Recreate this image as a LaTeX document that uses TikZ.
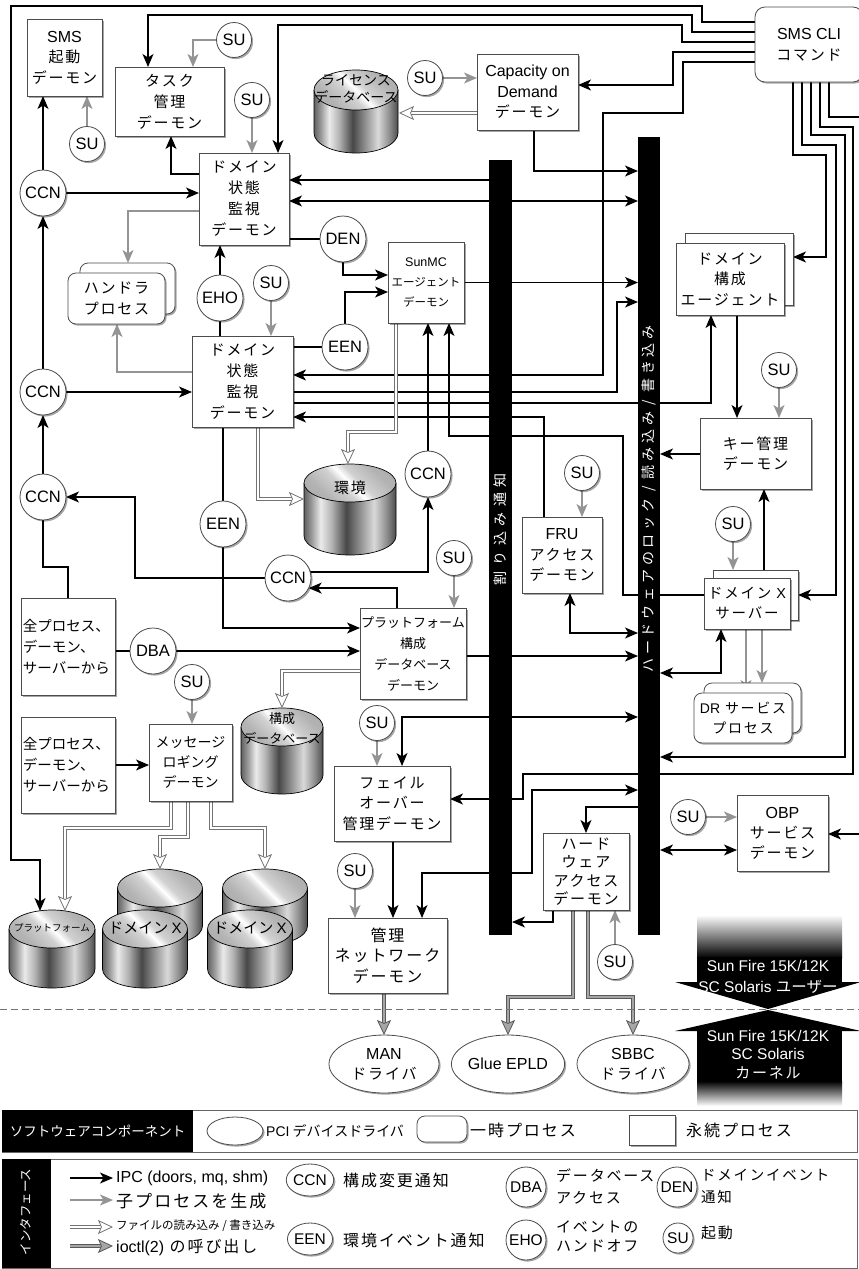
\documentclass[tikz,border=0pt]{standalone}
\usepackage{fontspec}
\setmainfont{Noto Sans CJK JP}[LetterSpace=12]
\newfontfamily\jpt{Noto Sans CJK JP}
\newfontfamily\jpw{Noto Sans CJK JP}[LetterSpace=40]
\newfontfamily\jpv{Noto Sans CJK JP}[LetterSpace=27]
\newfontfamily\lat{Liberation Sans}
\usetikzlibrary{arrows.meta,shadows,shapes.geometric,calc}
\newcommand\fs[2]{\fontsize{#1}{#2}\selectfont}
\newcommand\lsf{\lat\fontsize{16}{20.5}\selectfont}
\colorlet{cA}{black!62}\colorlet{cB}{black!40}\colorlet{cC}{black!8}\colorlet{cD}{black!30}
\colorlet{cE}{black!72}\colorlet{cF}{black!45}\colorlet{cG}{black!15}\colorlet{cH}{black!70}
\colorlet{tA}{black!36}\colorlet{tB}{black!30}\colorlet{tC}{black!18}\colorlet{tD}{white}
\pgfdeclarehorizontalshading{cylside}{100bp}{color(0bp)=(cA); color(25bp)=(cA); color(29bp)=(cB); color(34bp)=(cC); color(40bp)=(cD); color(48bp)=(cE); color(55bp)=(cF); color(63bp)=(cG); color(70bp)=(cF); color(75bp)=(cH); color(100bp)=(cH)}
\pgfdeclarehorizontalshading{cyltop}{100bp}{color(0bp)=(tA); color(30bp)=(tB); color(44bp)=(tC); color(50bp)=(tD); color(56bp)=(tC); color(70bp)=(tB); color(100bp)=(tA)}
\pgfdeclarelayer{paper}
\pgfdeclarelayer{cyl}
\pgfdeclarelayer{bg}
\pgfsetlayers{paper,cyl,bg,main}
\newcommand\dbcyl[5]{%
  \shade[shading=cylside] ({#1-#4},#2) -- ({#1-#4},#3) arc[start angle=180,end angle=0,x radius=#4,y radius=#5] -- ({#1+#4},#2) -- cycle;
  \draw[line width=0.7pt] ({#1-#4},#2) -- ({#1-#4},#3) arc[start angle=180,end angle=0,x radius=#4,y radius=#5] -- ({#1+#4},#2);
  \shade[shading=cyltop, shading angle=45] (#1,#2) ellipse[x radius=#4, y radius=#5];
  \draw[line width=0.7pt] (#1,#2) ellipse[x radius=#4, y radius=#5];
}
\tikzset{
 shd/.style={drop shadow={shadow xshift=1.6pt, shadow yshift=-1.6pt, opacity=0.35, fill=black}},
 box/.style={draw=black!70, fill=white, line width=0.8pt, outer sep=0pt, inner sep=1pt, align=center, shd, font=\fs{15}{20.5}},
 rbox/.style={box, rounded corners=8pt},
 circ/.style={circle, draw=black!70, fill=white, line width=0.8pt, minimum size=46pt, inner sep=0pt, outer sep=0pt, shd, font=\lat\fs{16.5}{18}},
 su/.style={circ, minimum size=35pt},
 drv/.style={ellipse, draw=black!70, fill=white, line width=0.8pt, inner sep=0pt, outer sep=0pt, align=center, shd, font=\fs{15}{20}},
 barn/.style={fill=black, inner sep=0pt, outer sep=0pt, minimum width=23pt},
 ipc/.style={line width=1.3pt, ->},
 ipc2/.style={line width=1.3pt, <->},
 link/.style={line width=1.3pt},
 spawn/.style={line width=1.5pt, draw=black!42, ->},
 fileline/.style={draw=black!55, line width=0.7pt, double=white, double distance=2.6pt, shorten >=10pt},
 filehead/.style={draw=white, line width=0.8pt, -{Stealth[length=15pt,width=14pt,inset=3pt,color=black!55,fill=white]}},
 ioline/.style={draw=black!65, line width=0.7pt, double=black!35, double distance=2.6pt, shorten >=10pt},
 iohead/.style={draw=black!35, line width=0.8pt, -{Stealth[length=15pt,width=14pt,inset=3pt,color=black!65,fill=black!35]}},
 lt/.style={anchor=west, inner sep=0pt},
 wt/.style={text=white, inner sep=0pt, font=\lat\fs{15.5}{18}},
}
\begin{document}
\begin{tikzpicture}[x=1pt,y=-1pt, >={Stealth[length=13pt,width=11pt,inset=3.5pt]}]
\begin{pgfonlayer}{paper}
\fill[white] (0,0) rectangle (859,1269);
\end{pgfonlayer}
\useasboundingbox (0,0) rectangle (859,1269);

% ---------- boxes ----------
\node[box, minimum width=75pt, minimum height=77pt] (smsboot) at (64.5,57.5) {{\lsf SMS}\\起動\\デーモン};
\node[box, minimum width=109pt, minimum height=69pt, font=\fs{15}{21}] (task) at (169.5,101.5) {タスク\\管理\\デーモン};
\node[box, minimum width=90pt, minimum height=92pt, font=\fs{15}{21}] (dsm1) at (244,199) {ドメイン\\状態\\監視\\デーモン};
\node[box, minimum width=101pt, minimum height=91pt, font=\fs{15}{21}] (dsm2) at (242.5,381.5) {ドメイン\\状態\\監視\\デーモン};
\node[rbox, minimum width=95pt, minimum height=51pt] (handb) at (127.5,288.5) {};
\node[rbox, minimum width=97pt, minimum height=51pt] (handf) at (116.5,298.5) {ハンドラ\\プロセス};
\node[box, minimum width=76pt, minimum height=81pt, font=\jpt\fs{11.5}{20}] (sunmc) at (426,282.5) {{\lat\fs{12.5}{20}SunMC}\\エージェント\\デーモン};
\node[box, minimum width=101pt, minimum height=76pt] (cod) at (527.5,92) {{\lsf Capacity on}\\{\lsf Demand}\\デーモン};
\node[box, rounded corners=10pt, minimum width=108pt, minimum height=75pt] (smscli) at (809,44.5) {{\lsf SMS CLI}\\コマンド};
\node[box, minimum width=108pt, minimum height=72pt] (dcfgb) at (739,269) {};
\node[box, minimum width=108pt, minimum height=72pt] (dcfgf) at (730,279) {ドメイン\\構成\\エージェント};
\node[box, minimum width=111pt, minimum height=71pt] (key) at (755.5,453.5) {キー管理\\デーモン};
\node[box, minimum width=80pt, minimum height=76pt] (fru) at (562,555) {{\lsf FRU}\\アクセス\\デーモン};
\node[box, minimum width=85pt, minimum height=50pt] (dxsb) at (755.5,595) {};
\node[box, minimum width=86pt, minimum height=51pt, font=\fs{14.5}{20}] (dxsf) at (747,603.5) {ドメイン {\lat X}\\サーバー};
\node[rbox, minimum width=97pt, minimum height=50pt] (drb) at (752.5,708) {};
\node[rbox, minimum width=98pt, minimum height=50pt, font=\fs{14}{20}] (drf) at (743,718) {{\lat DR} サービス\\プロセス};
\node[box, minimum width=94pt, minimum height=97pt, align=left, text width=90pt, font=\jpt\fs{14.5}{21}] (all1) at (68,646.5) {全プロセス、\\デーモン、\\サーバーから};
\node[box, minimum width=94pt, minimum height=96pt, align=left, text width=90pt, font=\jpt\fs{14.5}{21}] (all2) at (68,765) {全プロセス、\\デーモン、\\サーバーから};
\node[box, minimum width=106pt, minimum height=91pt, font=\jpt\fs{13}{21}] (pcfg) at (413,653.5) {プラットフォーム\\構成\\データベース\\デーモン};
\node[box, minimum width=83pt, minimum height=77pt, font=\jpt\fs{14}{20}] (msg) at (190.5,762.5) {メッセージ\\ロギング\\デーモン};
\node[box, minimum width=116pt, minimum height=75pt] (fail) at (392,803.5) {フェイル\\オーバー\\管理デーモン};
\node[box, minimum width=91pt, minimum height=76pt, font=\fs{15}{20}] (obp) at (782.5,833) {{\lsf OBP}\\サービス\\デーモン};
\node[box, minimum width=86pt, minimum height=77pt, font=\fs{15}{18.5}] (hwa) at (586,871.5) {ハード\\ウェア\\アクセス\\デーモン};
\node[box, minimum width=119pt, minimum height=75pt, font=\fs{16}{20.5}] (mnd) at (387.5,955.5) {管理\\ネットワーク\\デーモン};

% ---------- circles ----------
\node[circ] (ccn1) at (43,193) {CCN};
\node[circ] (ccnm) at (43,392) {CCN};
\node[circ] (ccnl) at (43,497) {CCN};
\node[circ] (ccn2) at (428,474) {CCN};
\node[circ] (ccn3) at (288,578) {CCN};
\node[circ] (den) at (343,239) {DEN};
\node[circ] (een1) at (345,347) {EEN};
\node[circ] (eho) at (220,298) {EHO};
\node[circ] (een2) at (223,524) {EEN};
\node[circ] (dba) at (153,651) {DBA};
\node[su] (sutask) at (234,40) {SU};
\node[su] (suboot) at (87,144) {SU};
\node[su] (sudsm1) at (252,100) {SU};
\node[su] (sudsm2) at (271,283) {SU};
\node[su] (sucod) at (425,78) {SU};
\node[su] (sukey) at (779,370) {SU};
\node[su] (sufru) at (582,473) {SU};
\node[su] (sudxs) at (733,524) {SU};
\node[su] (supcfg) at (454,558) {SU};
\node[su] (sumsg) at (192,682) {SU};
\node[su] (sufail) at (377,723) {SU};
\node[su] (sumnd) at (355,871) {SU};
\node[su] (suhwa) at (615,962) {SU};
\node[su] (suobp) at (688,817) {SU};

% ---------- drivers ----------
\node[drv, minimum width=110pt, minimum height=58pt] (man) at (384,1064) {{\lsf MAN}\\ドライバ};
\node[drv, minimum width=110pt, minimum height=58pt] (glue) at (508,1064) {{\lsf Glue EPLD}};
\node[drv, minimum width=112pt, minimum height=58pt] (sbbc) at (633,1064) {{\lsf SBBC}\\ドライバ};

% ---------- bars ----------
\node[barn, minimum height=775pt] (intbar) at (500.5,547.5) {};
\node[barn, minimum width=22pt, minimum height=798pt] (hwbar) at (649,536) {};
\node[rotate=90, text=white, inner sep=0pt, font=\jpw\fs{14}{14}] (intlabel) at (500.5,529) {割り込み通知};
\node[rotate=90, text=white, inner sep=0pt, font=\jpv\fs{14}{14}] (hwlabel) at (649,499) {ハードウェアのロック / 読み込み / 書き込み};

% ---------- databases ----------
\begin{pgfonlayer}{cyl}
\dbcyl{356}{90}{133}{42}{20}
\dbcyl{350}{483}{536}{46}{19}
\dbcyl{282}{727}{775}{41}{19}
\dbcyl{52}{929}{969}{43}{19}
\dbcyl{160}{888}{926}{42.5}{19}
\dbcyl{145}{929}{969}{42.5}{19}
\dbcyl{265}{888}{926}{42.5}{19}
\dbcyl{250}{929}{969}{42.5}{19}
\end{pgfonlayer}
\node[align=center, inner sep=0pt, font=\jpt\fs{14}{17}] (licdb) at (356,89) {ライセンス\\データベース};
\node[inner sep=0pt, font=\fs{15}{18}] (envdb) at (350,488) {環境};
\node[align=center, inner sep=0pt, font=\jpt\fs{13}{20}] (cfgdb) at (282,728) {構成\\データベース};
\node[inner sep=0pt, font=\jpt\fs{9.5}{12}] (platdb) at (52,928) {プラットフォーム};
\node[inner sep=0pt, font=\jpt\fs{15}{18}] (dx1db) at (145,928) {ドメイン {\lat X}};
\node[inner sep=0pt, font=\jpt\fs{15}{18}] (dx2db) at (250,928) {ドメイン {\lat X}};
\coordinate (licin) at (399,113);
\coordinate (envin1) at (304,499);
\coordinate (envin2) at (348,464);
\coordinate (cfgin) at (282,708);
\coordinate (platin) at (40,911);
\coordinate (platin2) at (65,911);
\coordinate (dxb1in) at (160,869);
\coordinate (dxb2in) at (265,869);

% ---------- connectors ----------
\begin{pgfonlayer}{bg}
\draw[ipc] (smscli.west |- 0,22) -- (702,22) -- (702,6) -- (11,6) -- (11,860) -- (40,860) -- (platin);
\draw[ipc] (smscli.west |- 0,32) -- (692,32) -- (692,15) -- (148,15) -- (task.north -| 148,0);
\draw[ipc] (smscli.west |- 0,42) -- (682,42) -- (682,25) -- (278,25) -- (dsm1.north -| 278,0);
\draw[ipc] (smscli.west |- 0,52) -- (673,52) -- (673,85) -- (cod.east |- 0,85);
\draw[ipc] (smscli.west |- 0,62) -- (683,62) -- (683,113) -- (603,113) -- (603,375) -- (dsm2.east |- 0,375);
\draw[ipc] (smscli.south -| 793,0) -- (793,155) -- (826,155) -- (826,257) -- (dcfgb.east |- 0,257);
\draw[ipc] (smscli.south -| 802,0) -- (802,145) -- (836,145) -- (836,595) -- (dxsb.east |- 0,595);
\draw[ipc] (smscli.south -| 811,0) -- (811,135) -- (845,135) -- (845,757) -- (hwbar.east |- 0,757);
\draw[ipc] (smscli.south -| 820,0) -- (820,127) -- (853,127) -- (853,774) -- (523,774) -- (523,799) -- (fail.east |- 0,799);
\draw[ipc] (smscli.south -| 829,0) -- (829,117) -- (868,117) -- (868,834) -- (obp.east |- 0,834);
\draw[ipc] (cod.south -| 534,0) -- (534,171) -- (hwbar.west |- 0,171);
\draw[ipc] (intbar.west |- 0,180) -- (dsm1.east |- 0,180);
\draw[ipc2] (dsm1.east |- 0,201) -- (hwbar.west |- 0,201);
\draw[ipc] (dsm1.west |- 0,174) -- (171,174) -- (task.south -| 171,0);
\draw[ipc] (ccn1.east) -- (dsm1.west |- ccn1);
\draw[ipc] (ccn1.north) -- (smsboot.south -| ccn1);
\draw[ipc] (ccnm.north) -- (ccn1.south);
\draw[ipc] (ccnm.east) -- (dsm2.west |- ccnm);
\draw[ipc] (ccnl.north) -- (ccnm.south);
\draw[link] (all1.north -| 68,0) -- (68,567) -- (43,567) -- (ccnl.south);
\draw[ipc] (ccn3.west) -- (135,578) -- (135,497) -- (ccnl.east);
\draw[ipc] (ccn3.15) -| (ccn2.south);
\draw[ipc] (ccn2.north) -- (sunmc.south -| ccn2);
\draw[ipc] (pcfg.north -| 397,0) |- (ccn3.-26);
\draw[link] (dsm1.east |- den) -- (den.west);
\draw[ipc] (den.south) |- (sunmc.west |- 0,275);
\draw[link] (dsm2.east |- een1) -- (een1.west);
\draw[ipc] (een1.north) |- (sunmc.west |- 0,292);
\draw[ipc] (sunmc.east) -- (hwbar.west |- sunmc);
\draw[ipc] (dsm2.east |- 0,392) -- (617,392) -- (617,302) -- (hwbar.west |- 0,302);
\draw[ipc] (dsm2.east |- 0,403) -- (711,403) -- (dcfgf.south -| 711,0);
\draw[ipc] (fru.north -| 544,0) -- (544,417) -- (dsm2.east |- 0,417);
\draw[ipc] (dxsf.west |- 0,595) -- (623,595) -- (623,436) -- (449,436) -- (sunmc.south -| 449,0);
\draw[ipc] (eho.north) -- (dsm1.south -| eho);
\draw[link] (eho.south) -- (dsm2.north -| eho);
\draw[link] (dsm2.south -| een2) -- (een2.north);
\draw[ipc] (een2.south) |- (pcfg.west |- 0,628);
\draw[link] (all1.east |- dba) -- (dba.west);
\draw[ipc] (dba.east) -- (pcfg.west |- dba);
\draw[ipc] (all2.east) -- (msg.west |- all2);
\draw[ipc] (pcfg.east |- 0,656) -- (hwbar.west |- 0,656);
\draw[ipc2] (fru.south -| 570,0) -- (570,633) -- (hwbar.west |- 0,633);
\draw[ipc] (dcfgf.south -| 737,0) -- (key.north -| 737,0);
\draw[ipc] (key.west |- 0,454) -- (hwbar.east |- 0,454);
\draw[ipc] (dxsb.north -| 764,0) -- (key.south -| 764,0);
\draw[ipc2] (dxsf.south -| 721,0) -- (721,673) -- (hwbar.east |- 0,673);
\draw[ipc2] (fail.north -| 402,0) -- (402,717) -- (hwbar.west |- 0,717);
\draw[ipc2] (mnd.north -| 422,0) -- (422,873) -- (532,873) -- (532,790) -- (hwbar.west |- 0,790);
\draw[ipc] (hwbar.west |- 0,807) -- (586,807) -- (hwa.north -| 586,0);
\draw[ipc] (fail.south -| 393,0) -- (mnd.north -| 393,0);
\draw[ipc] (hwa.south -| 553,0) -- (553,922) -- (intbar.east |- 0,922);
\draw[ipc2] (hwbar.east |- 0,850) -- (obp.west |- 0,850);
% spawn
\draw[spawn] (sutask.west) -| (task.north -| 193,0);
\draw[spawn] (suboot.north) -- (smsboot.south -| suboot);
\draw[spawn] (sudsm1.south) -- (dsm1.north -| sudsm1);
\draw[spawn] (sudsm2.south) -- (dsm2.north -| sudsm2);
\draw[spawn] (sucod.east) -- (cod.west |- sucod);
\draw[spawn] (dsm1.west |- 0,211) -| (handb.north -| 128,0);
\draw[spawn] (dsm2.west |- 0,372) -| (handf.south -| 117,0);
\draw[spawn] (sukey.south) -- (key.north -| sukey);
\draw[spawn] (sufru.south) -- (fru.north -| sufru);
\draw[spawn] (sudxs.south) -- (dxsb.north -| sudxs);
\draw[spawn] (dxsf.south -| 746,0) -- (drf.north -| 746,0);
\draw[spawn] (dxsf.south -| 762,0) -- (drb.north -| 762,0);
\draw[spawn] (supcfg.south) -- (pcfg.north -| supcfg);
\draw[spawn] (sumsg.south) -- (msg.north -| sumsg);
\draw[spawn] (sufail.south) -- (fail.north -| sufail);
\draw[spawn] (sumnd.south) -- (mnd.north -| sumnd);
\draw[spawn] (suhwa.north) -- (hwa.south -| suhwa);
\draw[spawn] (suobp.east) -- (obp.west |- suobp);
% file read/write
\draw[fileline] (cod.west |- licin) -- (licin);
\draw[filehead] (cod.west |- licin) -- (licin);
\draw[fileline] (dsm2.south -| 258,0) |- (envin1);
\draw[filehead] (258,499) -- (envin1);
\draw[fileline] (sunmc.south -| 396,0) -- (396,432) -| (envin2);
\draw[filehead] (348,432) -- (envin2);
\draw[fileline] (pcfg.west |- 0,671) -| (cfgin);
\draw[filehead] (282,671) -- (cfgin);
\draw[fileline] (msg.south -| 171,0) -- (171,828) -| (platin2);
\draw[filehead] (65,828) -- (platin2);
\draw[fileline] (msg.south -| 188,0) -- (188,837) -| (dxb1in);
\draw[filehead] (160,837) -- (dxb1in);
\draw[fileline] (msg.south -| 211,0) -- (211,828) -| (dxb2in);
\draw[filehead] (265,828) -- (dxb2in);
% ioctl
\draw[ioline] (mnd.south -| man) -- (man.north);
\draw[iohead] (mnd.south -| man) -- (man.north);
\draw[ioline] (hwa.south -| 573,0) -- (573,997) -| (glue.north);
\draw[iohead] (508,997) -- (glue.north);
\draw[ioline] (hwa.south -| 588,0) -- (588,997) -| (sbbc.north);
\draw[iohead] (633,997) -- (sbbc.north);
% user / kernel boundary
\draw[black!55, line width=0.8pt, dash pattern=on 7pt off 4pt] (0,1009) -- (859,1009);
\end{pgfonlayer}

% ---------- Sun Fire user / kernel ----------
\shade[top color=white, bottom color=black] (697,915) rectangle (842,958);
\fill[black] (697,957) rectangle (842,983);
\fill[black] (675,982) -- (861,982) -- (768,1009) -- cycle;
\fill[black] (768,1010) -- (861,1031) -- (675,1031) -- cycle;
\fill[black] (697,1030) rectangle (842,1082);
\shade[top color=black, bottom color=white] (697,1081) rectangle (842,1106);
\node[wt] (sfu1) at (768,966) {Sun Fire 15K/12K};
\node[wt] (sfu2) at (768,987) {SC Solaris {\fontspec{Noto Sans CJK JP}ユーザー}};
\node[wt] (sfk1) at (768,1036) {Sun Fire 15K/12K};
\node[wt] (sfk2) at (768,1054) {SC Solaris};
\node[wt, font=\fs{15}{18}] (sfk3) at (768,1073) {カーネル};

% ---------- legend ----------
\draw[black!60, line width=0.9pt] (2,1110) rectangle (857,1152);
\fill[black] (2,1110) rectangle (193,1152);
\node[text=white, inner sep=0pt, font=\jpt\fs{13.5}{16}] (swlabel) at (97.5,1131) {ソフトウェアコンポーネント};
\node[drv, minimum width=56pt, minimum height=28pt] (lpci) at (235,1131) {};
\node[lt, font=\jpt\fs{14}{16}] (lpcit) at (266,1131) {{\lat PCI} デバイスドライバ};
\node[rbox, minimum width=50pt, minimum height=26pt] (ltmp) at (442,1129) {};
\node[lt, font=\fs{16}{18}] (ltmpt) at (470,1130) {一時プロセス};
\node[box, minimum width=46pt, minimum height=30pt] (lper) at (652,1130) {};
\node[lt, font=\fs{16}{18}] (lpert) at (686,1130) {永続プロセス};

\draw[black!60, line width=0.9pt] (2,1159) rectangle (857,1268);
\fill[black] (2,1159) rectangle (51,1268);
\node[rotate=90, text=white, inner sep=0pt, font=\jpt\fs{12.5}{14}] (iflabel) at (26,1212) {インタフェース};
\coordinate (la1) at (70,1178); \coordinate (lb1) at (113,1178);
\coordinate (la2) at (70,1200); \coordinate (lb2) at (113,1200);
\coordinate (la3) at (70,1227); \coordinate (lb3) at (113,1227);
\coordinate (la4) at (70,1246); \coordinate (lb4) at (113,1246);
\draw[ipc] (la1) -- (lb1);
\draw[spawn] (la2) -- (lb2);
\draw[fileline] (la3) -- (lb3);
\draw[filehead] (la3) -- (lb3);
\draw[ioline] (la4) -- (lb4);
\draw[iohead] (la4) -- (lb4);
\node[lt, font=\lat\fs{16}{18}] (lipc) at (116,1178) {IPC (doors, mq, shm)};
\node[lt, font=\fs{17}{20}] (lspawn) at (116,1201) {子プロセスを生成};
\node[lt, font=\jpt\fs{11.5}{14}] (lfile) at (116,1226) {ファイルの読み込み / 書き込み};
\node[lt, font=\fs{16}{18}] (lio) at (116,1247) {{\lat ioctl(2)} の呼び出し};

\node[ellipse, draw=black!70, fill=white, line width=0.8pt, inner sep=0pt, shd, minimum width=42pt, minimum height=32pt, font=\lat\fs{15.5}{18}] (lccn) at (310,1180) {CCN};
\node[ellipse, draw=black!70, fill=white, line width=0.8pt, inner sep=0pt, shd, minimum width=42pt, minimum height=32pt, font=\lat\fs{15.5}{18}] (leen) at (310,1239) {EEN};
\node[circ, minimum size=40pt, font=\lat\fs{15.5}{18}] (ldba) at (526,1187) {DBA};
\node[circ, minimum size=40pt, font=\lat\fs{15.5}{18}] (lden) at (677,1187) {DEN};
\node[circ, minimum size=40pt, font=\lat\fs{15.5}{18}] (leho) at (526,1240) {EHO};
\node[circ, minimum size=30pt, font=\lat\fs{15.5}{18}] (lsu) at (678,1238) {SU};
\node[lt, font=\fs{16}{20}] (lccnt) at (343,1180) {構成変更通知};
\node[lt, font=\fs{16}{20}] (leent) at (343,1240) {環境イベント通知};
\node[lt, align=left, font=\fs{15}{22}] (ldbat) at (556,1186) {データベース\\アクセス};
\node[lt, align=left, font=\fs{14.5}{22}] (ldent) at (701,1186) {ドメインイベント\\通知};
\node[lt, align=left, font=\fs{15}{19}] (lehot) at (556,1236) {イベントの\\ハンドオフ};
\node[lt, font=\fs{15}{18}] (lsut) at (701,1233) {起動};
\end{tikzpicture}
\end{document}
